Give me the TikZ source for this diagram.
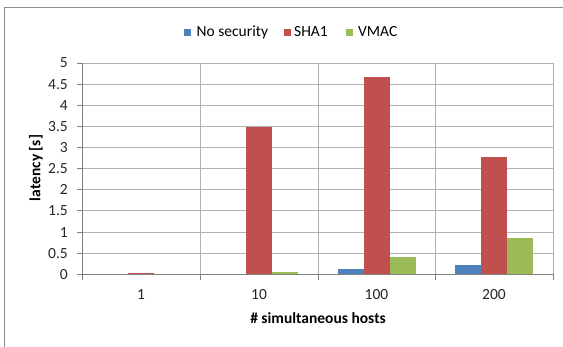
\documentclass[tikz,border=0pt]{standalone}
\usepackage{fontspec}
\setmainfont{Carlito}
\begin{document}
\begin{tikzpicture}[x=1pt,y=-1pt,
  frame/.style={draw=black!45,line width=1.2pt},
  grid/.style={draw=black!30,line width=0.9pt},
  axisline/.style={draw=black!50,line width=0.9pt},
  ticklbl/.style={font=\fontsize{15.5}{17}\selectfont,text=black!85,inner sep=0pt},
  axtitle/.style={font=\fontsize{15.5}{17}\selectfont\bfseries,inner sep=0pt},
  barA/.style={fill=blue1,draw=none},
  barB/.style={fill=red1,draw=none},
  barC/.style={fill=green1,draw=none},
  legtxt/.style={font=\fontsize{15.5}{17}\selectfont,inner sep=0pt,anchor=west}]
\definecolor{blue1}{HTML}{4F81BD}
\definecolor{red1}{HTML}{C0504D}
\definecolor{green1}{HTML}{9BBB59}
\useasboundingbox (0,0) rectangle (563,346);
\fill[white] (0,0) rectangle (563,346);
% chart frame (open to the right and bottom)
\draw[frame] (4.5,350) -- (4.5,7.5) -- (570,7.5);
% plot geometry: y0 = 274.3, 42.26 units per 1.0
\def\yz{274.3}
\def\ys{42.26}
% horizontal grid lines
\foreach \v in {0.5,1,...,5} {
  \draw[grid] (82,{\yz-\v*\ys}) -- (553,{\yz-\v*\ys});
}
% vertical grid lines
\foreach \gx in {200,318,435,553} {
  \draw[grid] (\gx,{\yz-5*\ys}) -- (\gx,\yz);
}
% bars: group centers and values
\foreach \c/\a/\b/\g in {141/0.0/0.03/0.005, 259/0.0/3.48/0.05, 376.5/0.12/4.68/0.40, 494/0.22/2.77/0.87} {
  \fill[barA] (\c-39,\yz) rectangle (\c-13,{\yz-\a*\ys});
  \fill[barB] (\c-13,\yz) rectangle (\c+13,{\yz-\b*\ys});
  \fill[barC] (\c+13,\yz) rectangle (\c+39,{\yz-\g*\ys});
}
% axes
\draw[axisline] (82,{\yz-5*\ys}) -- (82,\yz) -- (553,\yz);
\foreach \v/\t in {0/0,0.5/0.5,1/1,1.5/1.5,2/2,2.5/2.5,3/3,3.5/3.5,4/4,4.5/4.5,5/5} {
  \draw[axisline] (77,{\yz-\v*\ys}) -- (82,{\yz-\v*\ys});
  \node[ticklbl,anchor=east] (yl\t) at (68,{\yz-\v*\ys}) {\t};
}
\foreach \gx in {82,200,318,435,553} {
  \draw[axisline] (\gx,\yz) -- (\gx,279.5);
}
\foreach \c/\t in {141/1,259/10,376.5/100,494/200} {
  \node[ticklbl] (xl\t) at (\c,295) {\t};
}
% axis titles
\node[axtitle] (xtitle) at (318,318) {\# simultaneous hosts};
\node[axtitle,rotate=90] (ytitle) at (36,168) {latency [s]};
% legend
\fill[blue1] (184,29) rectangle (191,36);
\node[legtxt] (lg1) at (196.5,32) {No security};
\fill[red1] (284,29) rectangle (291,36);
\node[legtxt] (lg2) at (294,32) {SHA1};
\fill[green1] (345.5,29) rectangle (352.5,36);
\node[legtxt] (lg3) at (358,32) {VMAC};
\end{tikzpicture}
\end{document}
